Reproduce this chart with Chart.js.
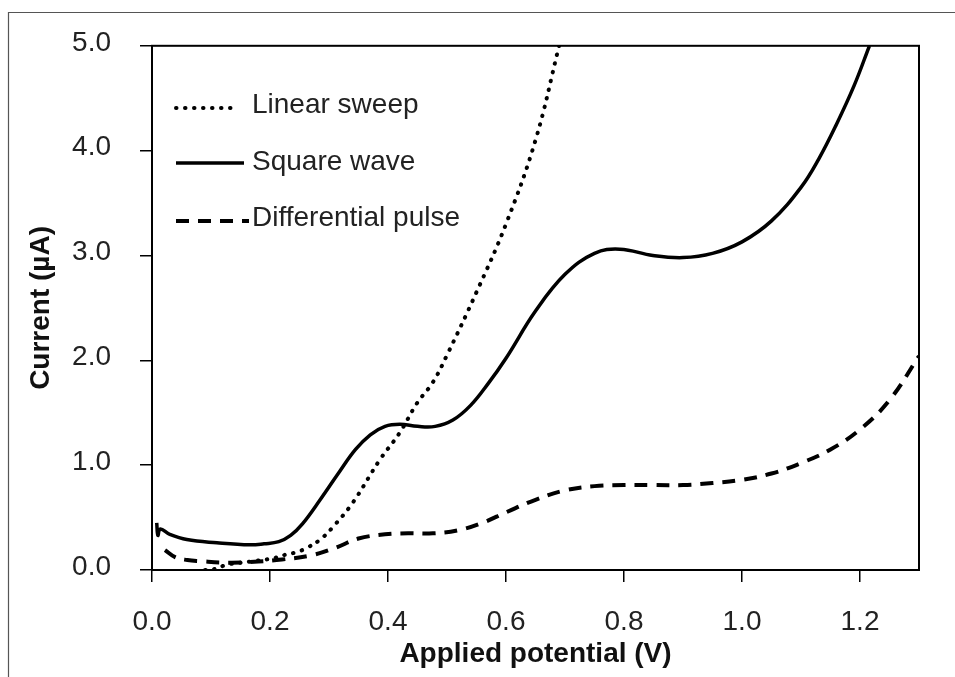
<!DOCTYPE html>
<html><head><meta charset="utf-8">
<script src="https://cdn.jsdelivr.net/npm/chart.js@4"></script>
<style>html,body{margin:0;padding:0;background:#fff}</style>
</head><body>
<canvas id="c" width="955" height="677" style="width:955px;height:677px"></canvas>
<script>
// ---- data ----
const xTicks = [0.0, 0.2, 0.4, 0.6, 0.8, 1.0, 1.2];
const yTicks = [0.0, 1.0, 2.0, 3.0, 4.0, 5.0];
const seriesNames = ['Linear sweep', 'Square wave', 'Differential pulse'];

const lsV = [0.09, 0.10, 0.127, 0.15, 0.166, 0.203, 0.229, 0.245, 0.262, 0.285, 0.305, 0.34, 0.386, 0.42, 0.449, 0.476, 0.50, 0.55, 0.60, 0.65, 0.69];
const lsI = [0.00, 0.00, 0.05, 0.07, 0.08, 0.11, 0.15, 0.17, 0.21, 0.29, 0.40, 0.64, 1.05, 1.31, 1.59, 1.79, 2.05, 2.65, 3.30, 4.10, 5.00];

const swV = [0.008, 0.010, 0.014, 0.030, 0.059, 0.11, 0.166, 0.19, 0.215, 0.235, 0.255, 0.285, 0.318, 0.345, 0.37, 0.395, 0.42, 0.45, 0.48, 0.51, 0.54, 0.57, 0.60, 0.65, 0.70, 0.75, 0.793, 0.849, 0.90, 0.95, 1.00, 1.05, 1.10, 1.13, 1.16, 1.19, 1.216];
const swI = [0.45, 0.33, 0.39, 0.34, 0.29, 0.26, 0.24, 0.25, 0.27, 0.33, 0.44, 0.67, 0.94, 1.15, 1.29, 1.37, 1.39, 1.37, 1.37, 1.43, 1.57, 1.78, 2.02, 2.47, 2.82, 3.02, 3.06, 3.00, 2.98, 3.02, 3.13, 3.33, 3.65, 3.92, 4.25, 4.62, 5.00];

const dpV = [0.022, 0.04, 0.06, 0.08, 0.13, 0.18, 0.22, 0.27, 0.31, 0.35, 0.395, 0.434, 0.476, 0.52, 0.56, 0.60, 0.65, 0.70, 0.75, 0.80, 0.85, 0.90, 0.95, 1.00, 1.05, 1.10, 1.15, 1.20, 1.25, 1.30];
const dpI = [0.19, 0.12, 0.095, 0.085, 0.07, 0.08, 0.10, 0.14, 0.21, 0.30, 0.34, 0.35, 0.35, 0.38, 0.45, 0.55, 0.67, 0.76, 0.80, 0.81, 0.81, 0.81, 0.83, 0.86, 0.92, 1.02, 1.15, 1.34, 1.62, 2.04];

const pts = (xs, ys) => xs.map((x, i) => ({x, y: ys[i]}));

const FONT = "'Liberation Sans', Arial, sans-serif";
const TXT = '#222';

const styles = [
  {borderDash: [0.5, 8.5], borderCapStyle: 'round', borderWidth: 4},
  {borderDash: [], borderCapStyle: 'butt', borderWidth: 3.5},
  {borderDash: [13, 9], borderCapStyle: 'butt', borderWidth: 4}
];

const framePlugin = {
  id: 'frame',
  beforeDraw(chart) {
    const ctx = chart.ctx;
    ctx.save();
    ctx.fillStyle = '#fff';
    ctx.fillRect(0, 0, chart.width, chart.height);
    ctx.strokeStyle = '#555';
    ctx.lineWidth = 1.2;
    ctx.beginPath();
    ctx.moveTo(8.5, 677);
    ctx.lineTo(8.5, 12.5);
    ctx.lineTo(955, 12.5);
    ctx.stroke();
    ctx.restore();
  },
  afterDatasetsDraw(chart) {
    const ctx = chart.ctx;
    const a = chart.chartArea;
    ctx.save();
    ctx.strokeStyle = '#000';
    ctx.lineWidth = 2;
    ctx.setLineDash([]);
    ctx.strokeRect(a.left, a.top, a.right - a.left, a.bottom - a.top);
    // legend
    const rows = [
      {y: 108, x1: 176, x2: 237, t: 105},
      {y: 163, x1: 176, x2: 244, t: 162},
      {y: 221, x1: 176, x2: 249, t: 218}
    ];
    rows.forEach((r, i) => {
      const s = styles[i];
      ctx.beginPath();
      ctx.setLineDash(s.borderDash);
      ctx.lineCap = s.borderCapStyle;
      ctx.lineWidth = s.borderWidth;
      ctx.strokeStyle = '#000';
      ctx.moveTo(r.x1, r.y);
      ctx.lineTo(r.x2, r.y);
      ctx.stroke();
      ctx.setLineDash([]);
      ctx.fillStyle = TXT;
      ctx.font = "28px " + FONT;
      ctx.textBaseline = 'middle';
      ctx.textAlign = 'left';
      ctx.fillText(seriesNames[i], 252, r.t);
    });
    ctx.restore();
  }
};

const mk = (i, data) => Object.assign({
  label: seriesNames[i],
  data,
  borderColor: '#000',
  backgroundColor: '#000',
  pointRadius: 0,
  fill: false,
  showLine: true,
  tension: 0.4
}, styles[i]);

new Chart(document.getElementById('c'), {
  type: 'scatter',
  data: {
    datasets: [mk(0, pts(lsV, lsI)), mk(1, pts(swV, swI)), mk(2, pts(dpV, dpI))]
  },
  options: {
    responsive: false,
    animation: false,
    devicePixelRatio: 1,
    layout: {padding: {left: 0, top: 44, right: 36, bottom: 0}},
    plugins: {legend: {display: false}, tooltip: {enabled: false}},
    scales: {
      x: {
        type: 'linear', min: 0, max: 1.3,
        afterFit(s) { s.height = 107; },
        afterBuildTicks(s) { s.ticks = xTicks.map(v => ({value: v})); },
        border: {display: true, color: '#000', width: 2},
        grid: {drawOnChartArea: false, drawTicks: true, tickLength: 12, color: '#000', lineWidth: 1.5},
        ticks: {padding: 23, color: TXT, font: {family: FONT, size: 28}, callback: v => Number(v).toFixed(1)},
        title: {display: true, text: 'Applied potential (V)', color: '#111', font: {family: FONT, size: 28, weight: 'bold'}, padding: {top: 0, bottom: 6}}
      },
      y: {
        type: 'linear', min: 0, max: 5,
        afterFit(s) { s.width = 152; },
        afterBuildTicks(s) { s.ticks = yTicks.map(v => ({value: v})); },
        border: {display: true, color: '#000', width: 2},
        grid: {drawOnChartArea: false, drawTicks: true, tickLength: 12, color: '#000', lineWidth: 1.5},
        ticks: {padding: 29, labelOffset: -3, color: TXT, font: {family: FONT, size: 28}, callback: v => Number(v).toFixed(1)},
        title: {display: true, text: 'Current (µA)', color: '#111', font: {family: FONT, size: 28, weight: 'bold'}, padding: {top: 24, bottom: 0}}
      }
    }
  },
  plugins: [framePlugin]
});
</script>
</body></html>
